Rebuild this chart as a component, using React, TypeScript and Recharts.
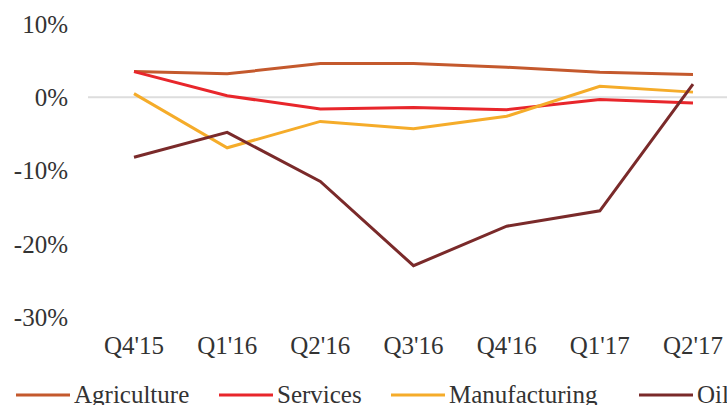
import React from 'react';
import { LineChart, Line, XAxis, YAxis, ReferenceLine, Legend } from 'recharts';

const quarters = ["Q4'15", "Q1'16", "Q2'16", "Q3'16", "Q4'16", "Q1'17", "Q2'17"];
const agriculture = [3.5, 3.2, 4.6, 4.6, 4.1, 3.4, 3.1];
const services = [3.5, 0.2, -1.6, -1.4, -1.7, -0.3, -0.8];
const manufacturing = [0.5, -6.9, -3.3, -4.3, -2.6, 1.5, 0.7];
const oil = [-8.2, -4.8, -11.5, -23.0, -17.6, -15.5, 1.8];
const yTicks = [-30, -20, -10, 0, 10];

const seriesNames = ['Agriculture', 'Services', 'Manufacturing', 'Oil'];
const seriesColors = ['#C4592D', '#E8262B', '#F5AC2A', '#7A2A2A'];

const data = quarters.map((q, i) => ({
  q,
  Agriculture: agriculture[i],
  Services: services[i],
  Manufacturing: manufacturing[i],
  Oil: oil[i],
}));

const FONT = '"Liberation Serif", serif';
const TEXT = '#333333';
const LEGEND_LEFTS = [16, 219, 391, 639];

const LegendContent = () => (
  <div style={{ position: 'relative', width: 727, height: 30, fontFamily: FONT, fontSize: 25, color: TEXT, whiteSpace: 'nowrap' }}>
    {seriesNames.map((n, i) => (
      <div key={n} style={{ position: 'absolute', top: 0, left: LEGEND_LEFTS[i], display: 'flex', alignItems: 'center', height: 30 }}>
        <svg width={54} height={4} style={{ display: 'block' }}>
          <line x1={0} y1={2} x2={54} y2={2} stroke={seriesColors[i]} strokeWidth={3} />
        </svg>
        <span style={{ marginLeft: 4, lineHeight: '30px' }}>{n}</span>
      </div>
    ))}
  </div>
);

export default function App() {
  return (
    <div style={{ position: 'absolute', left: 0, top: 0, width: 727, height: 405, background: '#fff', overflow: 'hidden' }}>
      <LineChart width={727} height={405} data={data} margin={{ top: 24, right: 0, bottom: 0, left: 0 }}>
        <ReferenceLine y={0} stroke="#DDDDDD" strokeWidth={2} />
        <XAxis
          dataKey="q"
          axisLine={false}
          tickLine={false}
          tickSize={0}
          tickMargin={19}
          height={58}
          padding={{ left: 46, right: 34 }}
          interval={0}
          tick={{ fontFamily: FONT, fontSize: 25, fill: TEXT }}
        />
        <YAxis
          domain={[-30, 10]}
          ticks={yTicks}
          axisLine={false}
          tickLine={false}
          tickSize={0}
          tickMargin={20}
          width={88}
          tickFormatter={(v: number) => `${v}%`}
          tick={{ fontFamily: FONT, fontSize: 25, fill: TEXT }}
        />
        {seriesNames.map((n, i) => (
          <Line key={n} type="linear" dataKey={n} stroke={seriesColors[i]} strokeWidth={3} dot={false} activeDot={false} isAnimationActive={false} />
        ))}
        <Legend verticalAlign="bottom" align="left" height={30} wrapperStyle={{ left: 0, bottom: -5 }} content={LegendContent} />
      </LineChart>
    </div>
  );
}
